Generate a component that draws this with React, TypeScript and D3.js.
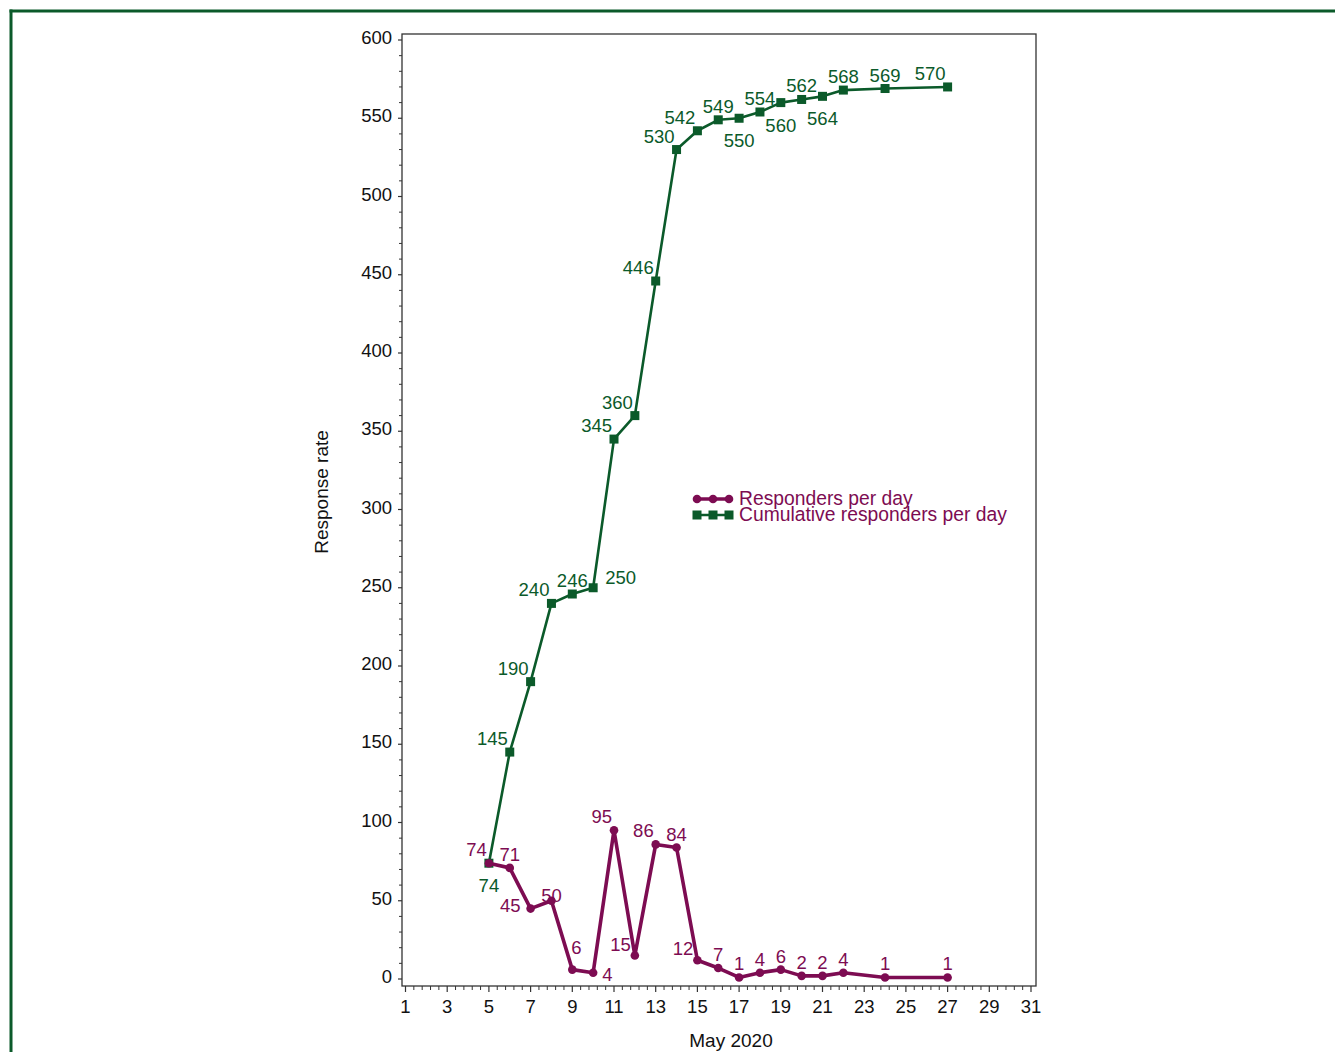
import React from "react";
import * as d3 from "d3";

const days = [5, 6, 7, 8, 9, 10, 11, 12, 13, 14, 15, 16, 17, 18, 19, 20, 21, 22, 24, 27];
const perDay = [74, 71, 45, 50, 6, 4, 95, 15, 86, 84, 12, 7, 1, 4, 6, 2, 2, 4, 1, 1];
const cumulative = [74, 145, 190, 240, 246, 250, 345, 360, 446, 530, 542, 549, 550, 554, 560, 562, 564, 568, 569, 570];
const perDayLabelPos = ["NW", "N", "W", "N2", "N3", "E", "NW", "NW2", "NW", "N", "NW2", "N", "N", "N", "N", "N", "N", "N", "N", "N"];
const cumLabelPos = ["S", "NW", "NW", "NW", "N", "NE", "NW", "NW", "NW", "NW", "NW", "N", "S", "N", "S", "N", "S", "N", "N", "NW"];
const yTicks = [0, 50, 100, 150, 200, 250, 300, 350, 400, 450, 500, 550, 600];
const xTicks = [1, 3, 5, 7, 9, 11, 13, 15, 17, 19, 21, 23, 25, 27, 29, 31];
const legendLabels = ["Responders per day", "Cumulative responders per day"];

const PURPLE = "#7d0c52";
const GREEN = "#0b5a2a";
const FONT = "'Liberation Sans', Arial, Helvetica, sans-serif";
const FS = 18.5;

const placements: Record<string, { dx: number; dy: number; anchor: string }> = {
  N: { dx: 0, dy: -7, anchor: "middle" },
  N2: { dx: 0, dy: 1, anchor: "middle" },
  N3: { dx: 4, dy: -16, anchor: "middle" },
  NW: { dx: -2, dy: -7, anchor: "end" },
  NW2: { dx: -4, dy: -5, anchor: "end" },
  NE: { dx: 12, dy: -4, anchor: "start" },
  S: { dx: 0, dy: 29, anchor: "middle" },
  E: { dx: 9, dy: 8, anchor: "start" },
  W: { dx: -10, dy: 3, anchor: "end" },
};

export default function App() {
  const W = 1335;
  const H = 1052;
  const frame = { left: 402, top: 34, right: 1036, bottom: 986 };
  const x = d3.scaleLinear().domain([1, 31]).range([405.5, 1031]);
  const y = d3.scaleLinear().domain([0, 600]).range([979, 40]);

  const line = d3
    .line<[number, number]>()
    .x((d) => x(d[0]))
    .y((d) => y(d[1]));

  const perPts: [number, number][] = days.map((d, i) => [d, perDay[i]]);
  const cumPts: [number, number][] = days.map((d, i) => [d, cumulative[i]]);

  const yMinor: number[] = [];
  for (let v = 0; v <= 600; v += 10) if (v % 50 !== 0) yMinor.push(v);
  const xMinor: number[] = [];
  for (let k = 0; k < xTicks.length - 1; k++) {
    for (let j = 1; j <= 4; j++) xMinor.push(xTicks[k] + (j * 2) / 5);
  }

  return (
    <svg
      width={W}
      height={H}
      style={{ position: "absolute", left: 0, top: 0, background: "#fff" }}
      fontFamily={FONT}
    >
      {/* outer green border */}
      <line x1={9.5} x2={W} y1={11} y2={11} stroke={GREEN} strokeWidth={3} />
      <line x1={11} x2={11} y1={9.5} y2={H} stroke={GREEN} strokeWidth={3} />

      {/* frame */}
      <rect
        x={frame.left}
        y={frame.top}
        width={frame.right - frame.left}
        height={frame.bottom - frame.top}
        fill="none"
        stroke="#333"
        strokeWidth={1.3}
      />

      {/* y axis ticks */}
      {yTicks.map((v) => (
        <g key={"yt" + v}>
          <line x1={frame.left - 4} x2={frame.left} y1={y(v)} y2={y(v)} stroke="#333" strokeWidth={1.2} />
          <text x={392} y={y(v) + 4} textAnchor="end" fontSize={FS} fill="#111">
            {v}
          </text>
        </g>
      ))}
      {yMinor.map((v) => (
        <line key={"ym" + v} x1={frame.left - 3} x2={frame.left} y1={y(v)} y2={y(v)} stroke="#333" strokeWidth={1} />
      ))}

      {/* x axis ticks */}
      {xTicks.map((v) => (
        <g key={"xt" + v}>
          <line x1={x(v)} x2={x(v)} y1={frame.bottom} y2={frame.bottom + 6} stroke="#333" strokeWidth={1.2} />
          <text x={x(v)} y={1013} textAnchor="middle" fontSize={FS} fill="#111">
            {v}
          </text>
        </g>
      ))}
      {xMinor.map((v, i) => (
        <line key={"xm" + i} x1={x(v)} x2={x(v)} y1={frame.bottom} y2={frame.bottom + 4} stroke="#333" strokeWidth={1} />
      ))}

      {/* axis titles */}
      <text x={731} y={1047} textAnchor="middle" fontSize={19} fill="#111">
        May 2020
      </text>
      <text
        transform={`translate(328, 492) rotate(-90)`}
        textAnchor="middle"
        fontSize={19}
        fill="#111"
      >
        Response rate
      </text>

      {/* cumulative series */}
      <path d={line(cumPts) || ""} fill="none" stroke={GREEN} strokeWidth={2.6} strokeLinejoin="round" />
      {cumPts.map((p, i) => (
        <rect key={"cs" + i} x={x(p[0]) - 4.5} y={y(p[1]) - 4.5} width={9} height={9} fill={GREEN} />
      ))}

      {/* responders per day series */}
      <path d={line(perPts) || ""} fill="none" stroke={PURPLE} strokeWidth={3.6} strokeLinejoin="round" />
      {perPts.map((p, i) => (
        <circle key={"pc" + i} cx={x(p[0])} cy={y(p[1])} r={4.3} fill={PURPLE} />
      ))}

      {/* labels */}
      {cumPts.map((p, i) => {
        const pl = placements[cumLabelPos[i]];
        return (
          <text
            key={"cl" + i}
            x={x(p[0]) + pl.dx}
            y={y(p[1]) + pl.dy}
            textAnchor={pl.anchor as any}
            fontSize={FS}
            fill={GREEN}
          >
            {p[1]}
          </text>
        );
      })}
      {perPts.map((p, i) => {
        const pl = placements[perDayLabelPos[i]];
        return (
          <text
            key={"pl" + i}
            x={x(p[0]) + pl.dx}
            y={y(p[1]) + pl.dy}
            textAnchor={pl.anchor as any}
            fontSize={FS}
            fill={PURPLE}
          >
            {p[1]}
          </text>
        );
      })}

      {/* legend */}
      <g>
        <line x1={696} x2={730} y1={499} y2={499} stroke={PURPLE} strokeWidth={3.6} />
        {[697, 713, 729].map((cx) => (
          <circle key={"lc" + cx} cx={cx} cy={499} r={4.3} fill={PURPLE} />
        ))}
        <line x1={696} x2={730} y1={515} y2={515} stroke={GREEN} strokeWidth={2.6} />
        {[697, 713, 729].map((cx) => (
          <rect key={"ls" + cx} x={cx - 4.5} y={515 - 4.5} width={9} height={9} fill={GREEN} />
        ))}
        <text x={739} y={505} fontSize={19.3} fill={PURPLE}>
          {legendLabels[0]}
        </text>
        <text x={739} y={521} fontSize={19.3} fill={PURPLE}>
          {legendLabels[1]}
        </text>
      </g>
    </svg>
  );
}
